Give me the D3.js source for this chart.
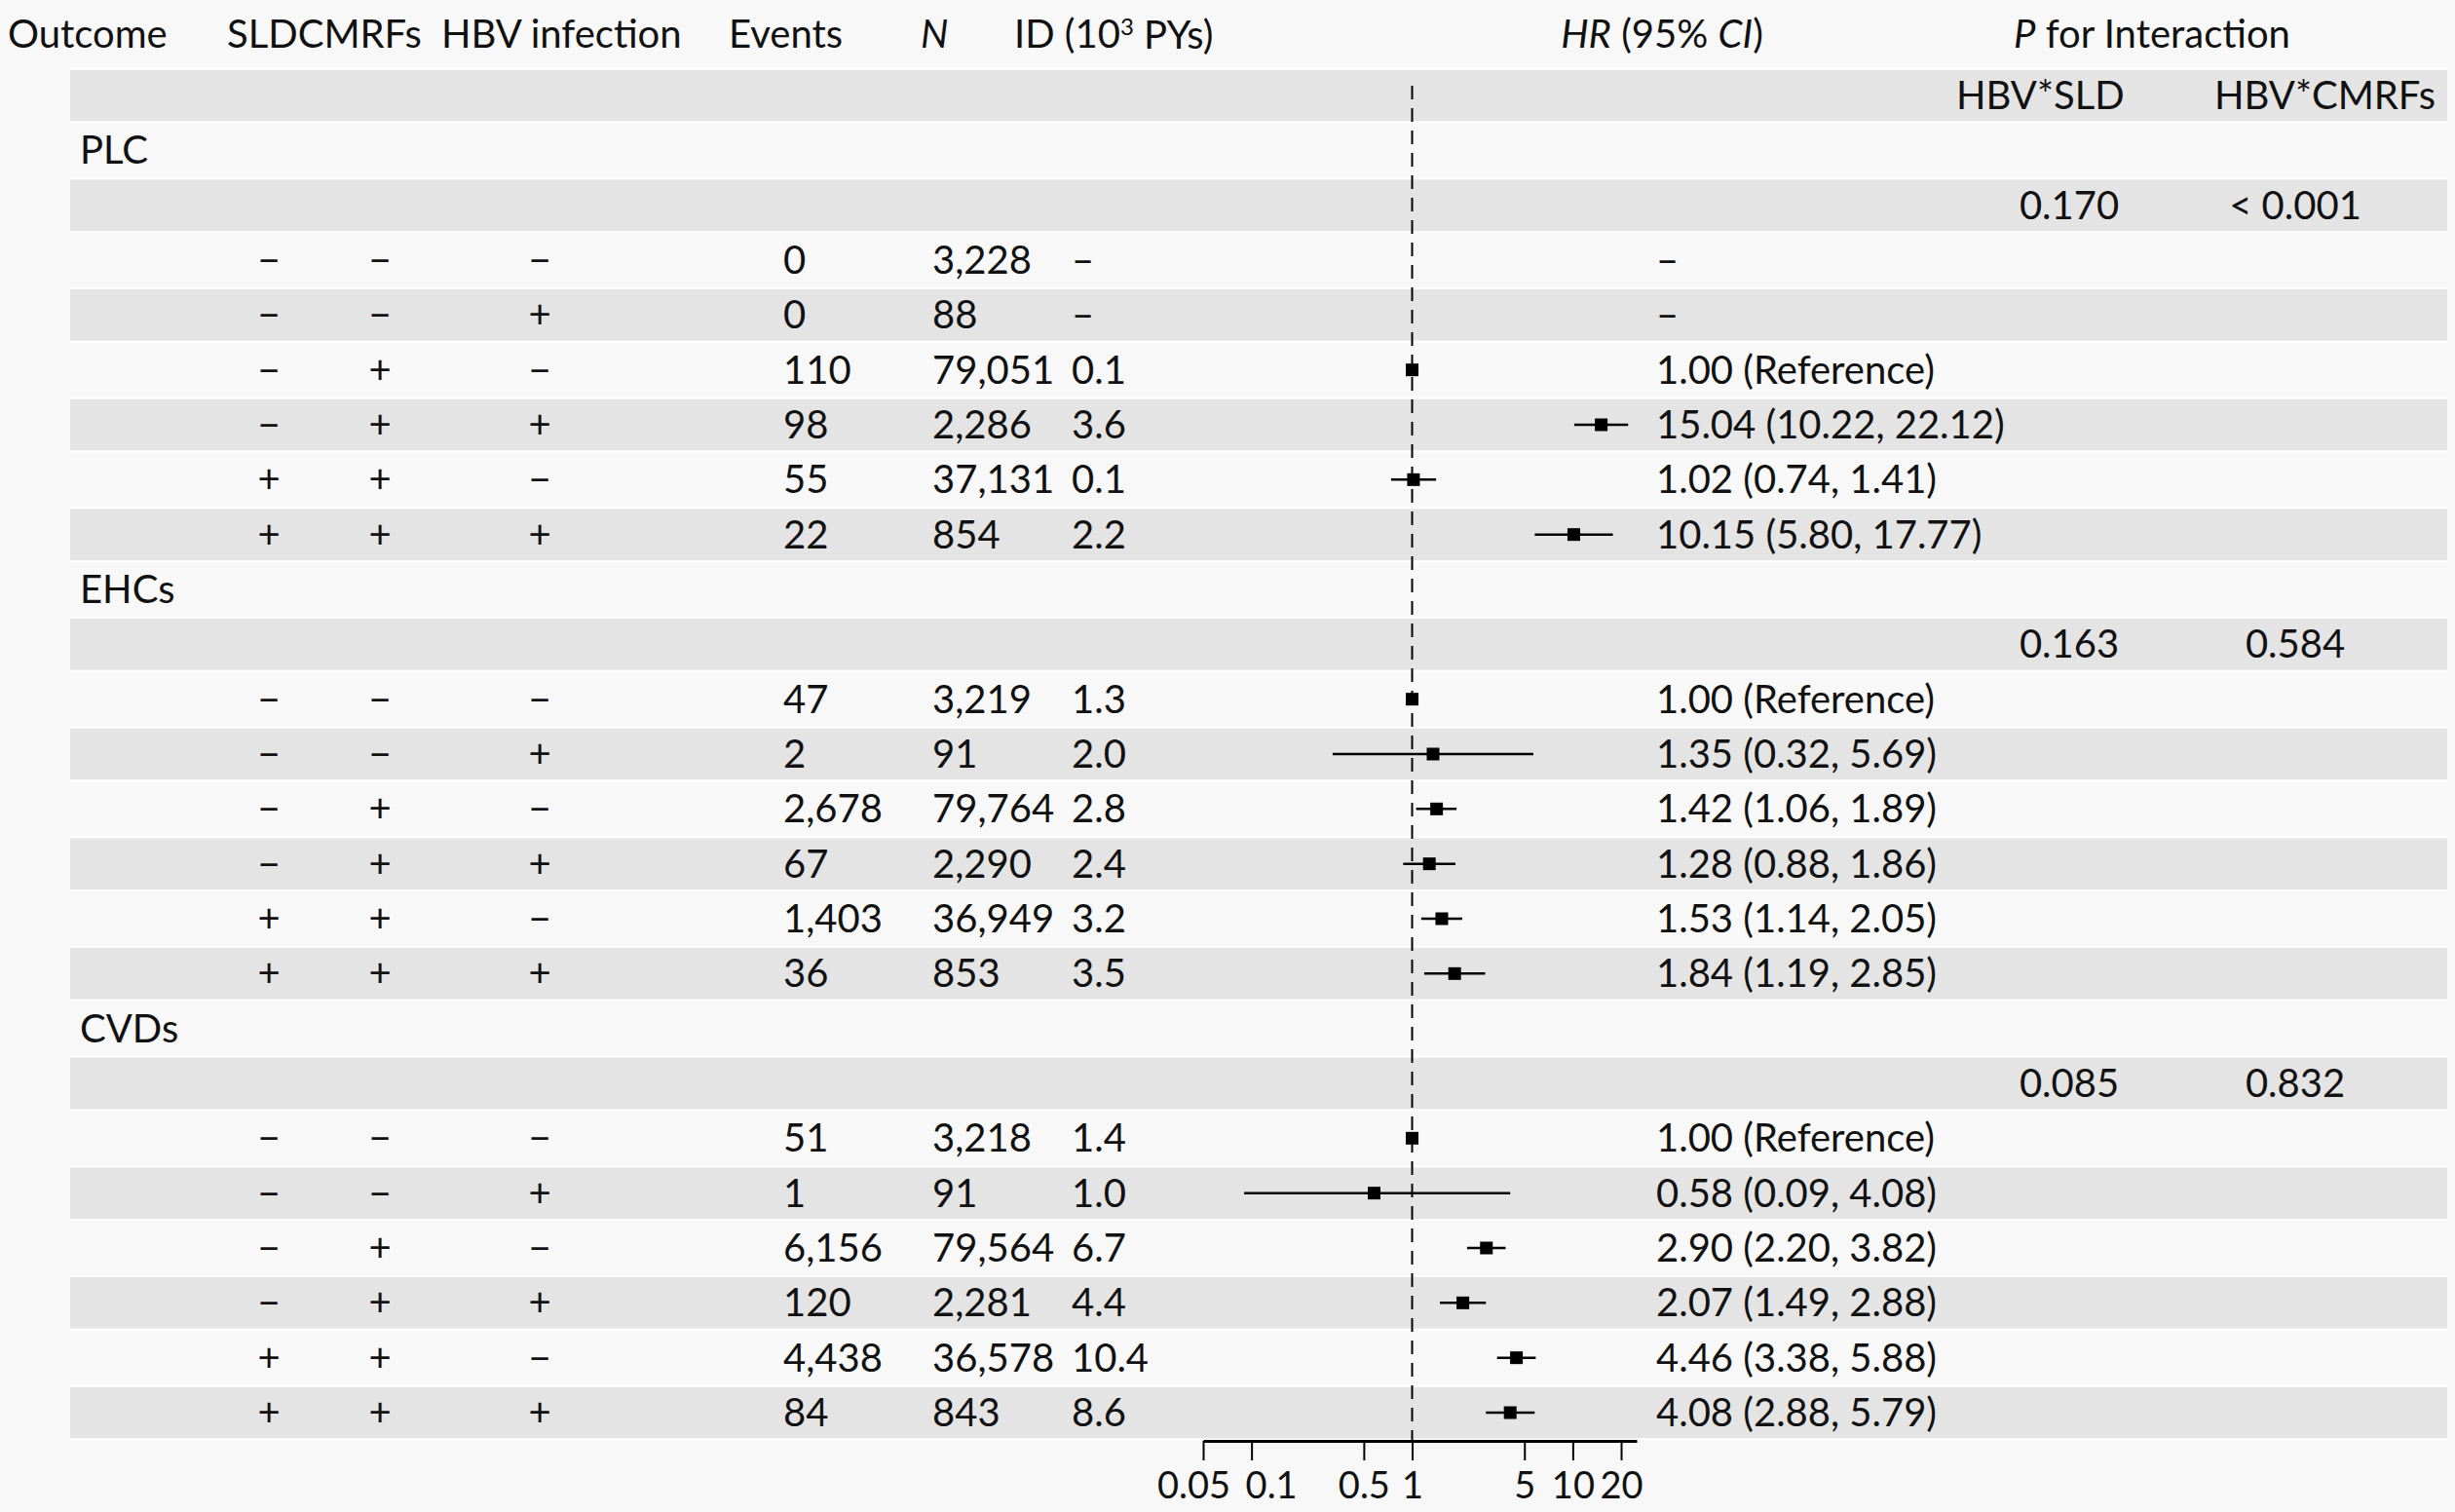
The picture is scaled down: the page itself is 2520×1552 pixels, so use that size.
<!DOCTYPE html>
<html>
<head>
<meta charset="utf-8">
<script src="https://cdn.jsdelivr.net/npm/d3@7"></script>
<style>
    body { margin: 0; background: #f8f8f8; }
    svg { display: block; font-family: Lato, "Noto Sans", sans-serif; }
    .cell { font-size: 40px; fill: #111; }
    .tick-label { font-size: 38px; fill: #111; }
    .band { fill: #e4e4e4; }
    .band-edge { stroke: #ffffff; stroke-width: 2; }
    .ci { stroke: #000; stroke-width: 2.5; }
    .box { fill: #000; }
    .ref-line { stroke: #000; stroke-width: 2; stroke-dasharray: 14 9; }
</style>
</head>
<body>
<div id="forest"></div>
<script>
// ---- data ----
const outcomes = ["PLC", "EHCs", "CVDs"];
const sldStatus = ["−", "−", "−", "−", "+", "+"];
const cmrfStatus = ["−", "−", "+", "+", "+", "+"];
const hbvStatus = ["−", "+", "−", "+", "−", "+"];

const events = {
    PLC: [0, 0, 110, 98, 55, 22],
    EHCs: [47, 2, 2678, 67, 1403, 36],
    CVDs: [51, 1, 6156, 120, 4438, 84]
};
const totals = {
    PLC: [3228, 88, 79051, 2286, 37131, 854],
    EHCs: [3219, 91, 79764, 2290, 36949, 853],
    CVDs: [3218, 91, 79564, 2281, 36578, 843]
};
const incidence = {
    PLC: [null, null, 0.1, 3.6, 0.1, 2.2],
    EHCs: [1.3, 2.0, 2.8, 2.4, 3.2, 3.5],
    CVDs: [1.4, 1.0, 6.7, 4.4, 10.4, 8.6]
};
const hazard = {
    PLC: [null, null, 1.00, 15.04, 1.02, 10.15],
    EHCs: [1.00, 1.35, 1.42, 1.28, 1.53, 1.84],
    CVDs: [1.00, 0.58, 2.90, 2.07, 4.46, 4.08]
};
const lower = {
    PLC: [null, null, 1.00, 10.22, 0.74, 5.80],
    EHCs: [1.00, 0.32, 1.06, 0.88, 1.14, 1.19],
    CVDs: [1.00, 0.09, 2.20, 1.49, 3.38, 2.88]
};
const upper = {
    PLC: [null, null, 1.00, 22.12, 1.41, 17.77],
    EHCs: [1.00, 5.69, 1.89, 1.86, 2.05, 2.85],
    CVDs: [1.00, 4.08, 3.82, 2.88, 5.88, 5.79]
};
const pSld = ["0.170", "0.163", "0.085"];
const pCmrf = ["< 0.001", "0.584", "0.832"];

const xTicks = [0.05, 0.1, 0.5, 1, 5, 10, 20];
const xLimits = [0.05, 25];


class ForestPlot {
    constructor(parentElement) {
        this.parentElement = parentElement;
        this.initVis();
    }

    initVis() {
        let vis = this;

        vis.width = 2520;
        vis.height = 1552;

        // column anchors
        vis.col = {
            outcome: 82, sld: 276, cmrf: 390, hbv: 554,
            events: 804, n: 957, id: 1100, hr: 1700,
            pSld: 2124, pCmrf: 2356
        };
        vis.bandX = [72, 2512];
        vis.bandHeight = 53;
        vis.axisY = 1479;
        // the two leftmost tick labels are pushed apart so they don't collide
        vis.tickNudge = { 0.05: -10, 0.1: 20 };

        vis.svg = d3.select("#" + vis.parentElement)
            .append("svg")
            .attr("width", vis.width)
            .attr("height", vis.height);

        vis.svg.append("rect")
            .attr("width", vis.width)
            .attr("height", vis.height)
            .attr("fill", "#f8f8f8");

        vis.y = d3.scaleLinear().domain([1, 25]).range([98, 1450]);
        vis.x = d3.scaleLog().domain(xLimits).range([1235, 1680]);

        vis.wrangleData();
    }

    wrangleData() {
        let vis = this;
        let fmt = d3.format(",");

        vis.rows = [{ idx: 1, type: "sub" }];
        let idx = 2;
        outcomes.forEach((o, g) => {
            vis.rows.push({ idx: idx++, type: "outcome", label: o });
            vis.rows.push({ idx: idx++, type: "p", sld: pSld[g], cmrf: pCmrf[g] });
            d3.range(6).forEach(i => {
                let hr = hazard[o][i];
                let hrText;
                if (hr === null) hrText = "–";
                else if (lower[o][i] === upper[o][i]) hrText = hr.toFixed(2) + " (Reference)";
                else hrText = `${hr.toFixed(2)} (${lower[o][i].toFixed(2)}, ${upper[o][i].toFixed(2)})`;

                vis.rows.push({
                    idx: idx++, type: "data",
                    sld: sldStatus[i], cmrf: cmrfStatus[i], hbv: hbvStatus[i],
                    events: fmt(events[o][i]),
                    n: fmt(totals[o][i]),
                    id: incidence[o][i] === null ? "–" : incidence[o][i].toFixed(1),
                    hr: hr, lo: lower[o][i], hi: upper[o][i],
                    hrText: hrText
                });
            });
        });

        vis.updateVis();
    }

    updateVis() {
        let vis = this;

        // alternating bands
        let odd = vis.rows.filter(d => d.idx % 2 === 1);
        vis.svg.selectAll("rect.band")
            .data(odd)
            .enter()
            .append("rect")
            .attr("class", "band")
            .attr("x", vis.bandX[0])
            .attr("width", vis.bandX[1] - vis.bandX[0])
            .attr("y", d => vis.y(d.idx) - vis.bandHeight / 2)
            .attr("height", vis.bandHeight);

        vis.svg.selectAll("line.band-edge")
            .data(odd.flatMap(d => [vis.y(d.idx) - vis.bandHeight / 2 - 1, vis.y(d.idx) + vis.bandHeight / 2 + 1]))
            .enter()
            .append("line")
            .attr("class", "band-edge")
            .attr("x1", vis.bandX[0])
            .attr("x2", vis.bandX[1])
            .attr("y1", d => d)
            .attr("y2", d => d);

        // header
        let head = vis.svg.append("g").attr("class", "cell");
        let hy = 35;
        let txt = (g, x, y, s, anchor) => g.append("text")
            .attr("x", x).attr("y", y).attr("dy", "0.35em")
            .attr("text-anchor", anchor || "start")
            .text(s);

        txt(head, 8, hy, "Outcome");
        let sldHead = txt(head, 233, hy, "SLD");
        txt(head, 233 + sldHead.node().getComputedTextLength(), hy, "CMRFs");
        txt(head, 453, hy, "HBV infection");
        txt(head, 748, hy, "Events");
        txt(head, 945, hy, "N").attr("font-style", "italic");

        let idHead = txt(head, 1041, hy, "ID (10");
        idHead.append("tspan").attr("font-size", "24px").attr("dy", "-0.55em").text("3");
        idHead.append("tspan").attr("dy", "0.35em").text(" PYs)");

        let hrHead = head.append("text").attr("x", 1706).attr("y", hy).attr("dy", "0.35em").attr("text-anchor", "middle");
        hrHead.append("tspan").attr("font-style", "italic").text("HR");
        hrHead.append("tspan").text(" (95% ");
        hrHead.append("tspan").attr("font-style", "italic").text("CI");
        hrHead.append("tspan").text(")");

        let pHead = head.append("text").attr("x", 2067).attr("y", hy).attr("dy", "0.35em");
        pHead.append("tspan").attr("font-style", "italic").text("P");
        pHead.append("tspan").text(" for Interaction");

        txt(head, 2008, vis.y(1), "HBV*SLD");
        txt(head, 2273, vis.y(1), "HBV*CMRFs");

        // body text
        let body = vis.svg.append("g").attr("class", "cell");

        vis.rows.filter(d => d.type === "outcome").forEach(d => {
            txt(body, vis.col.outcome, vis.y(d.idx), d.label);
        });

        vis.rows.filter(d => d.type === "p").forEach(d => {
            txt(body, vis.col.pSld, vis.y(d.idx), d.sld, "middle");
            txt(body, vis.col.pCmrf, vis.y(d.idx), d.cmrf, "middle");
        });

        let dataRows = vis.rows.filter(d => d.type === "data");
        dataRows.forEach(d => {
            let yy = vis.y(d.idx);
            txt(body, vis.col.sld, yy, d.sld, "middle");
            txt(body, vis.col.cmrf, yy, d.cmrf, "middle");
            txt(body, vis.col.hbv, yy, d.hbv, "middle");
            txt(body, vis.col.events, yy, d.events);
            txt(body, vis.col.n, yy, d.n);
            txt(body, vis.col.id, yy, d.id);
            txt(body, vis.col.hr, yy, d.hrText);
        });

        // forest part
        vis.svg.append("line")
            .attr("class", "ref-line")
            .attr("x1", vis.x(1)).attr("x2", vis.x(1))
            .attr("y1", 88).attr("y2", vis.axisY);

        let est = dataRows.filter(d => d.hr !== null);

        vis.svg.selectAll("line.ci")
            .data(est.filter(d => d.lo !== d.hi))
            .enter()
            .append("line")
            .attr("class", "ci")
            .attr("x1", d => vis.x(d.lo))
            .attr("x2", d => vis.x(d.hi))
            .attr("y1", d => vis.y(d.idx))
            .attr("y2", d => vis.y(d.idx));

        let box = 13;
        vis.svg.selectAll("rect.box")
            .data(est)
            .enter()
            .append("rect")
            .attr("class", "box")
            .attr("x", d => vis.x(d.hr) - box / 2)
            .attr("y", d => vis.y(d.idx) - box / 2)
            .attr("width", box)
            .attr("height", box);

        let axis = d3.axisBottom(vis.x)
            .tickValues(xTicks)
            .tickFormat(d => String(d))
            .tickSize(20)
            .tickSizeOuter(0)
            .tickPadding(12);

        let ax = vis.svg.append("g")
            .attr("transform", `translate(0, ${vis.axisY})`)
            .call(axis);

        ax.attr("font-family", null).attr("font-size", null);
        ax.select(".domain").attr("stroke", "#000").attr("stroke-width", 3);
        ax.selectAll(".tick line").attr("stroke", "#000").attr("stroke-width", 2);
        ax.selectAll(".tick text")
            .attr("class", "tick-label")
            .attr("fill", "#111")
            .attr("dx", d => vis.tickNudge[d] || 0);
    }
}

new ForestPlot("forest");
</script>
</body>
</html>
